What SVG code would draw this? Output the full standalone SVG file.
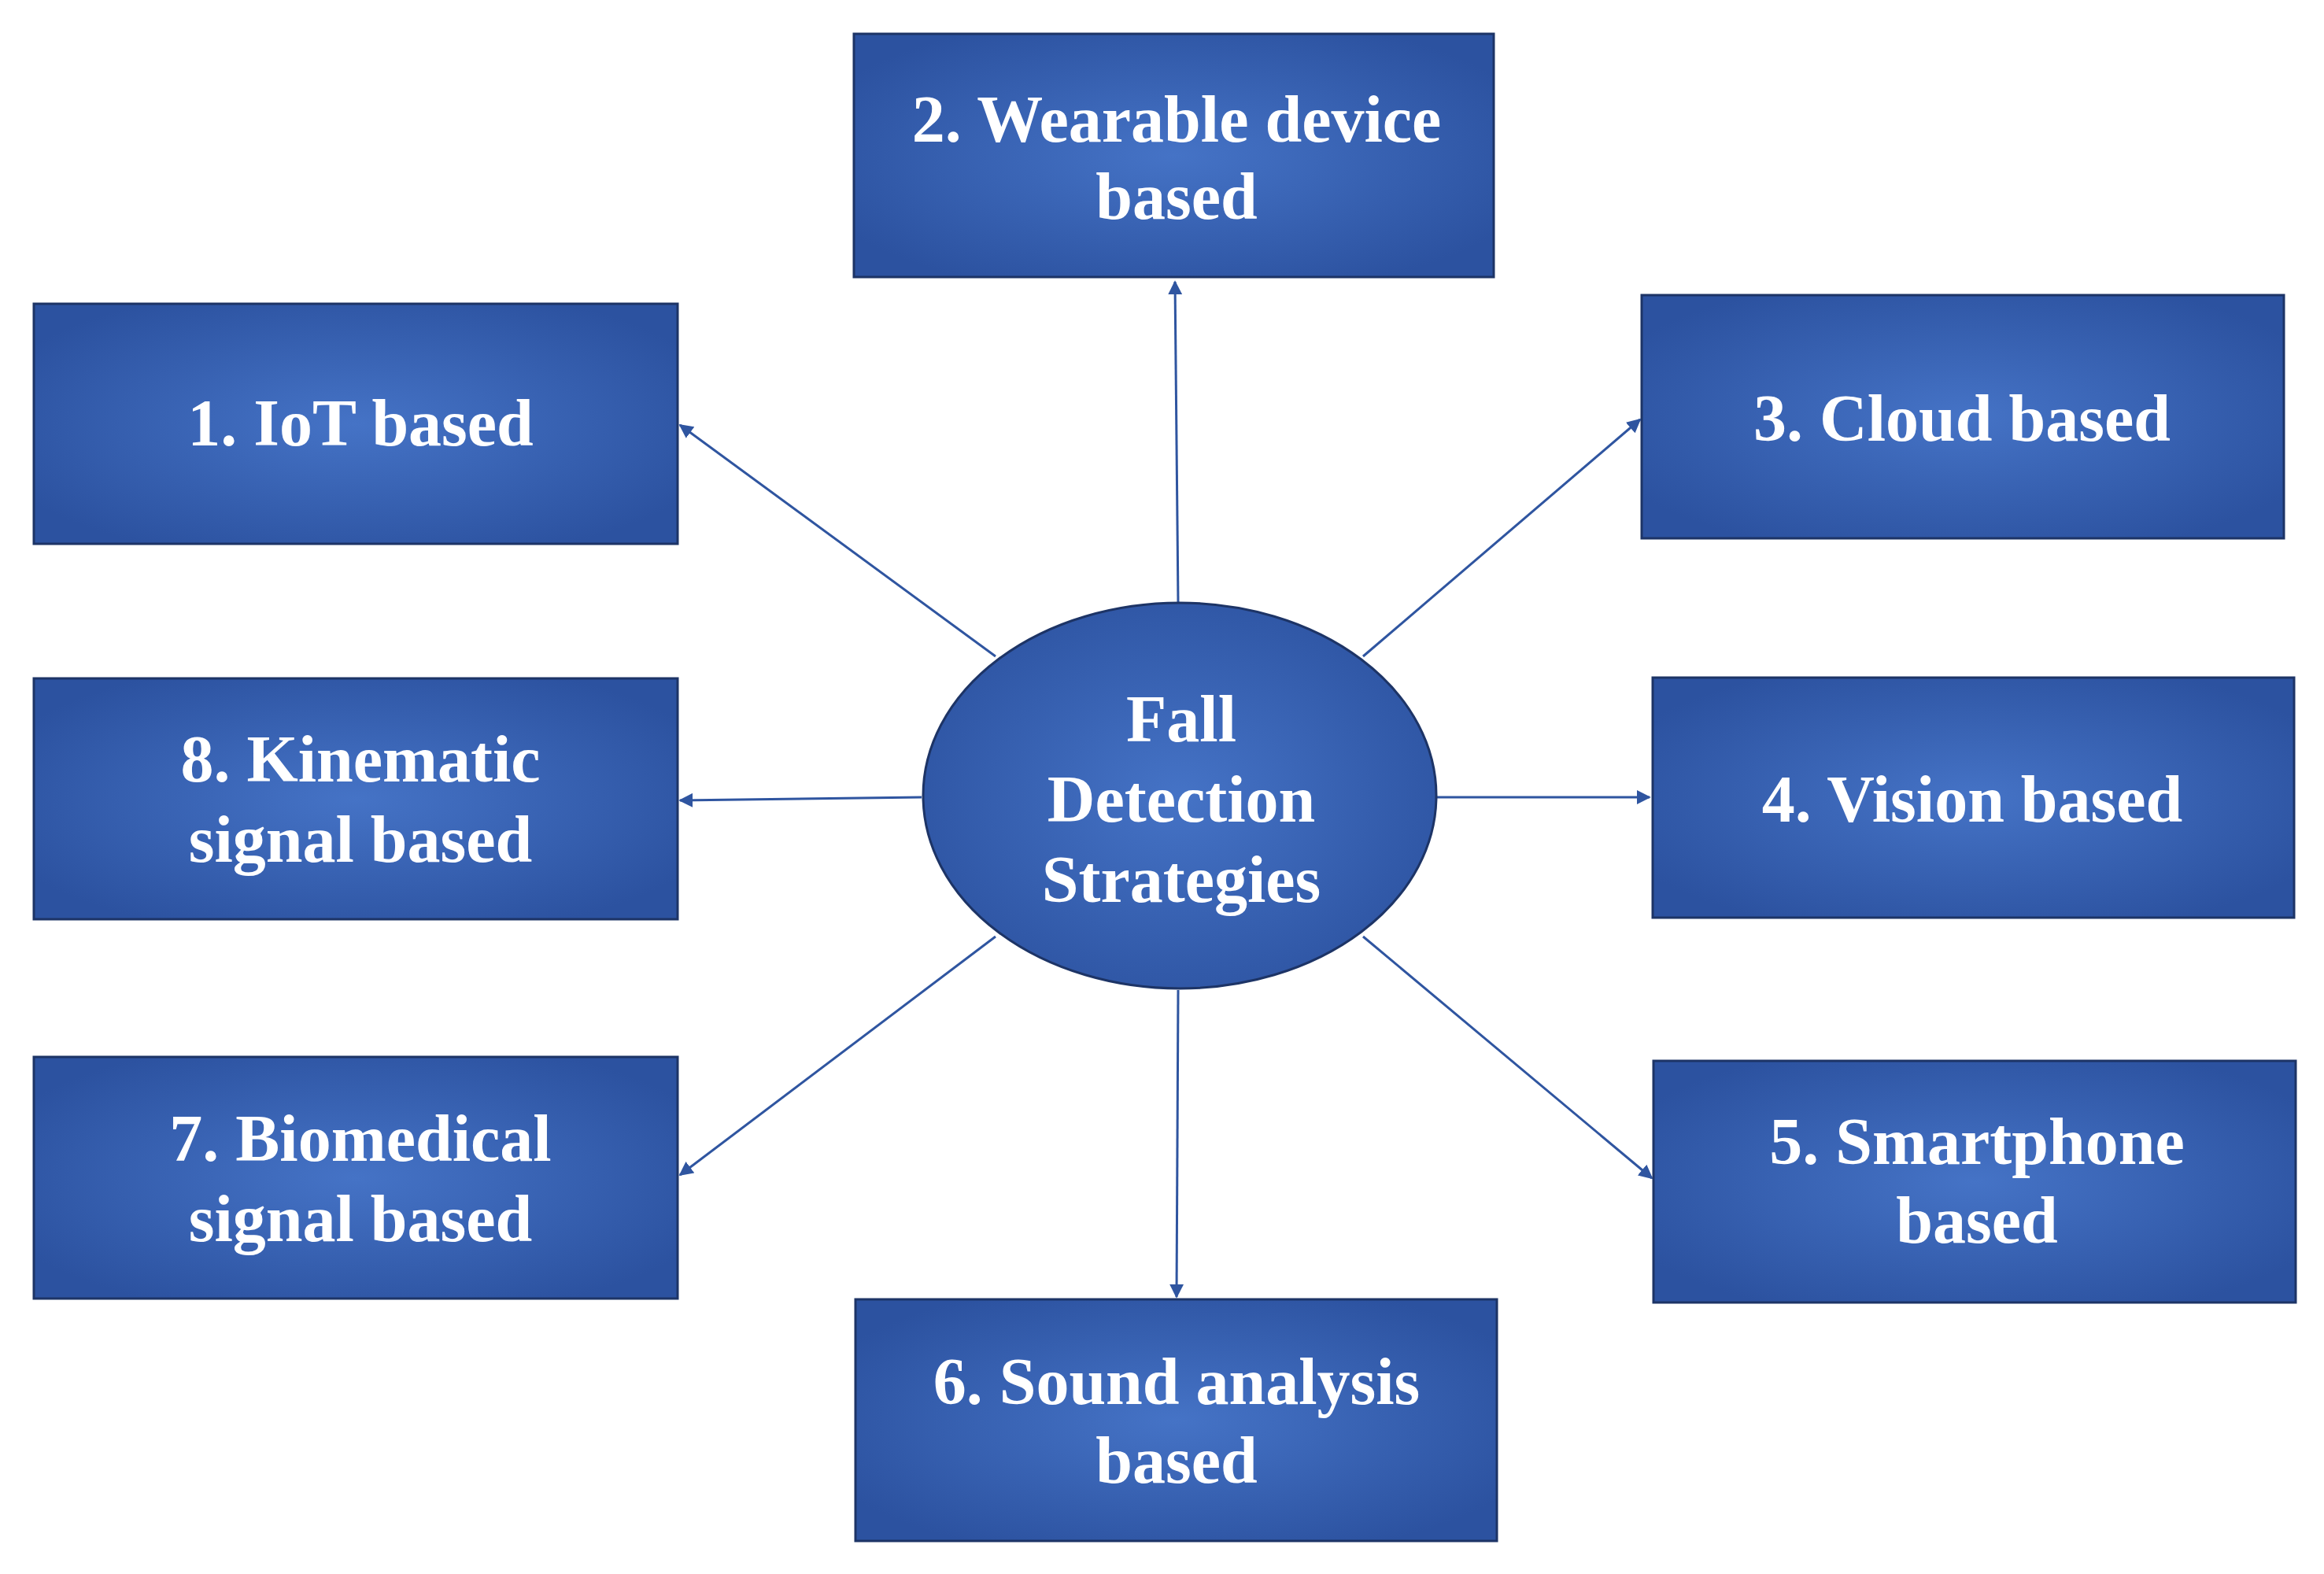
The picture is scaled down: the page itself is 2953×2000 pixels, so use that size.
<svg xmlns="http://www.w3.org/2000/svg" width="2953" height="2000" viewBox="0 0 2953 2000">
<defs>
<radialGradient id="g" cx="0.5" cy="0.5" r="0.6">
<stop offset="0" stop-color="#4573c6"/><stop offset="1" stop-color="#2c52a0"/>
</radialGradient>
<marker id="a" viewBox="0 0 10 10" refX="9" refY="5" markerWidth="6" markerHeight="6" orient="auto"><path d="M0,0L10,5L0,10z" fill="#2f55a0"/></marker>
<style>
.b{fill:url(#g);stroke:#1d3466;stroke-width:3}
.t{fill:#fff;font-family:"Liberation Serif",serif;font-size:84px;font-weight:bold;text-anchor:middle;dominant-baseline:central}
.c line{stroke:#2f55a0;stroke-width:3;marker-end:url(#a)}
</style>
</defs>
<rect width="2953" height="2000" fill="#fff"/>
<g class="c">
<line x1="1497" y1="766" x2="1493" y2="358"/>
<line x1="1265" y1="834" x2="864" y2="540"/>
<line x1="1732" y1="834" x2="2084" y2="533"/>
<line x1="1171" y1="1013" x2="864" y2="1017"/>
<line x1="1825" y1="1013" x2="2096" y2="1013"/>
<line x1="1265" y1="1190" x2="864" y2="1493"/>
<line x1="1732" y1="1190" x2="2099" y2="1497"/>
<line x1="1497" y1="1258" x2="1495" y2="1648"/>
</g>
<g id="n2"><rect class="b" x="1085" y="43" width="813" height="309"/><text class="t" x="1495" y="151">2. Wearable device</text><text class="t" x="1495" y="249">based</text></g>
<g id="n1"><rect class="b" x="43" y="386" width="818" height="305"/><text class="t" x="458" y="537">1. IoT based</text></g>
<g id="n3"><rect class="b" x="2086" y="375" width="816" height="309"/><text class="t" x="2493" y="531">3. Cloud based</text></g>
<g id="n8"><rect class="b" x="43" y="862" width="818" height="306"/><text class="t" x="458" y="964">8. Kinematic</text><text class="t" x="458" y="1066">signal based</text></g>
<g id="n4"><rect class="b" x="2100" y="861" width="815" height="305"/><text class="t" x="2506" y="1015">4. Vision based</text></g>
<g id="n7"><rect class="b" x="43" y="1343" width="818" height="307"/><text class="t" x="458" y="1446">7. Biomedical</text><text class="t" x="458" y="1548">signal based</text></g>
<g id="n5"><rect class="b" x="2101" y="1348" width="816" height="307"/><text class="t" x="2512" y="1450">5. Smartphone</text><text class="t" x="2512" y="1550">based</text></g>
<g id="n6"><rect class="b" x="1087" y="1651" width="815" height="307"/><text class="t" x="1495" y="1755">6. Sound analysis</text><text class="t" x="1495" y="1855">based</text></g>
<g id="c"><ellipse class="b" cx="1499" cy="1011" rx="326" ry="245"/><text class="t" x="1501" y="913">Fall</text><text class="t" x="1501" y="1015">Detection</text><text class="t" x="1501" y="1117">Strategies</text></g>
</svg>
